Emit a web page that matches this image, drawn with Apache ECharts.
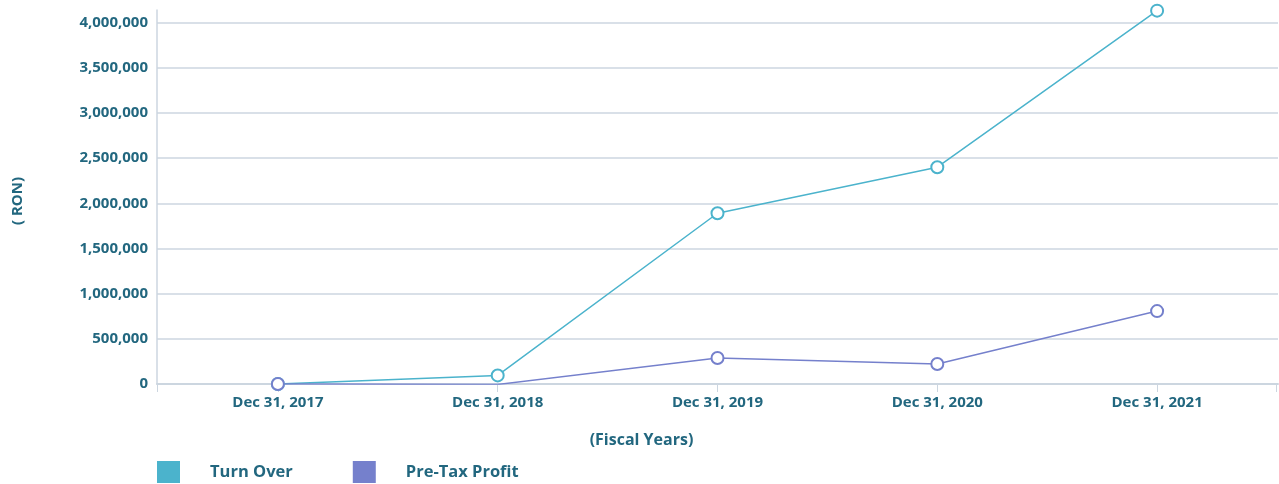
<!DOCTYPE html>
<html><head><meta charset="utf-8">
<script src="https://cdn.jsdelivr.net/npm/echarts@6/dist/echarts.min.js"></script>
<style>html,body{margin:0;padding:0;background:#fff}#c{width:1279px;height:484px}</style>
</head><body><div id="c"></div>
<script>
const categories = ['Dec 31, 2017','Dec 31, 2018','Dec 31, 2019','Dec 31, 2020','Dec 31, 2021'];
const turnOver = [0, 95000, 1890000, 2400000, 4133000];
const preTaxProfit = [0, -5000, 287000, 222000, 807000];
const yTicks = [0, 500000, 1000000, 1500000, 2000000, 2500000, 3000000, 3500000, 4000000];

const txt = '#22677f';
const font = 'Open Sans';
const chart = echarts.init(document.getElementById('c'));
const toPairs = arr => arr.map((v, i) => [i, v]);
chart.setOption({
  animation: false,
  grid: {left: 157, right: 1, top: 10, bottom: 100},
  xAxis: {
    type: 'value', min: -0.55, max: 4.55,
    name: '(Fiscal Years)', nameLocation: 'middle', nameGap: 48,
    nameTextStyle: {color: txt, fontFamily: font, fontWeight: 'bold', fontSize: 16, padding: [0, 152, 0, 0]},
    axisLine: {show: true, lineStyle: {color: '#ccd6e0', width: 2}},
    axisTick: {show: true, customValues: [-0.55, 0, 1, 2, 3, 4, 4.54], length: 8, lineStyle: {color: '#ccd6e0'}},
    axisLabel: {customValues: [0,1,2,3,4], formatter: v => categories[Math.round(v)], color: txt, fontFamily: font, fontWeight: 'bold', fontSize: 15, margin: 11},
    splitLine: {show: false}
  },
  yAxis: {
    type: 'value', min: 0, max: 4140000, interval: 500000,
    name: '( RON)', nameLocation: 'middle', nameGap: 132, nameRotate: 90,
    nameTextStyle: {color: txt, fontFamily: font, fontWeight: 'bold', fontSize: 15, padding: [0, 8, 0, 0]},
    axisLine: {show: true, onZero: false, lineStyle: {color: '#ccd6e0', width: 1.5}},
    axisTick: {show: false},
    axisLabel: {customValues: yTicks, formatter: v => v.toLocaleString('en-US'), color: txt, fontFamily: font, fontWeight: 'bold', fontSize: 15, margin: 9},
    splitLine: {show: true, showMaxLine: false, lineStyle: {color: '#ccd6e0', width: 1.5}}
  },
  legend: {
    left: 157, top: 459, padding: 0, icon: 'rect', itemWidth: 23, itemHeight: 22, itemGap: 60,
    textStyle: {color: txt, fontFamily: font, fontWeight: 'bold', fontSize: 16.5, lineHeight: 26, padding: [0, 0, 0, 25]},
    data: ['Turn Over', 'Pre-Tax Profit']
  },
  series: [
    {name: 'Turn Over', type: 'line', data: toPairs(turnOver), color: '#4bb3cc',
     symbol: 'emptyCircle', symbolSize: 12, lineStyle: {width: 1.5}, itemStyle: {borderWidth: 3}},
    {name: 'Pre-Tax Profit', type: 'line', data: toPairs(preTaxProfit), color: '#7580cc',
     symbol: 'emptyCircle', symbolSize: 12, lineStyle: {width: 1.5}, itemStyle: {borderWidth: 3}}
  ]
});
</script></body></html>
